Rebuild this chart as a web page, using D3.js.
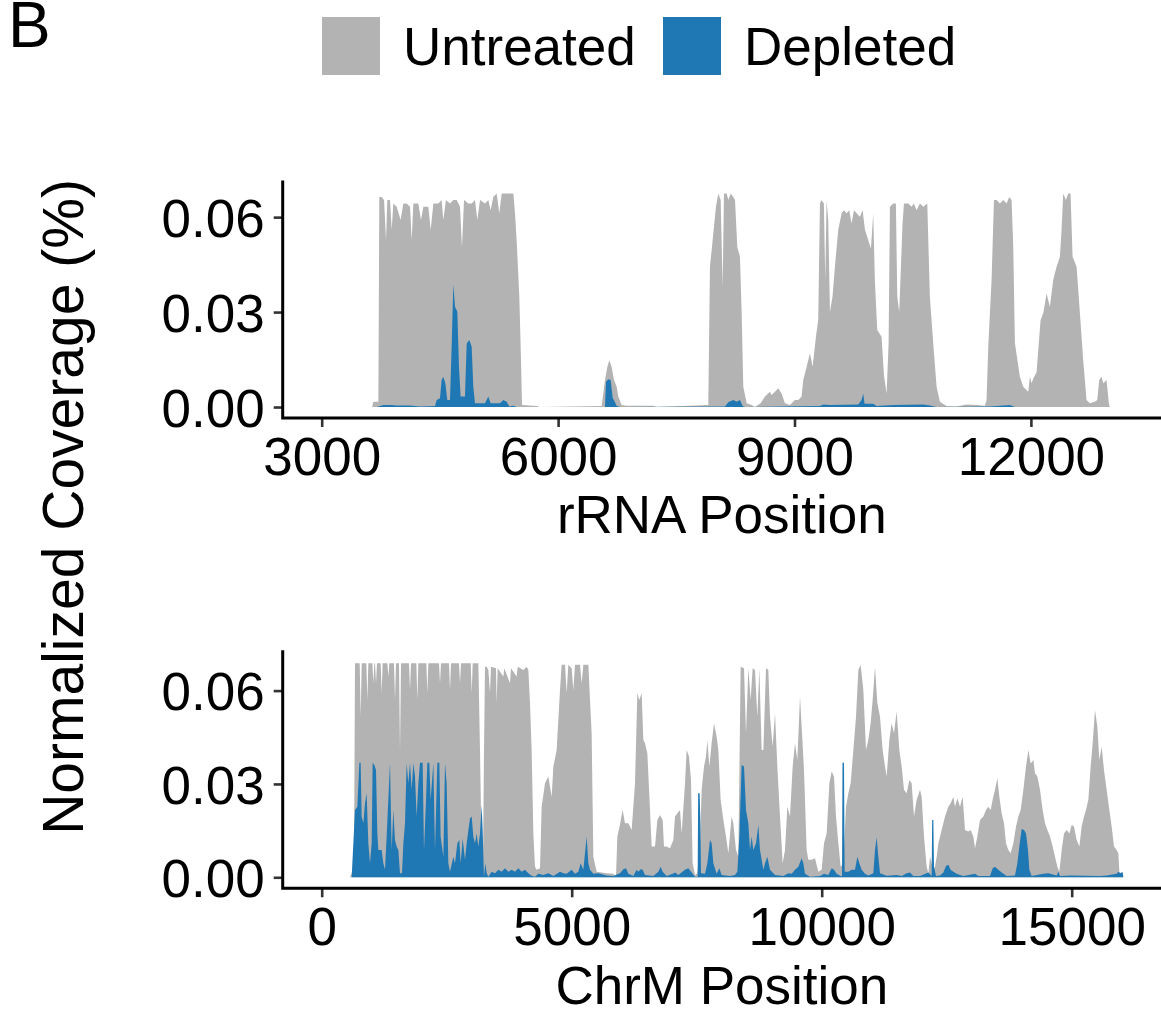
<!DOCTYPE html>
<html>
<head>
<meta charset="utf-8">
<script src="https://cdn.jsdelivr.net/npm/d3@7"></script>
<style>
  html, body { margin: 0; padding: 0; background: #fff; }
  svg { display: block; }
  text { font-family: "Liberation Sans", Arial, Helvetica, sans-serif; fill: #000; }
</style>
</head>
<body>
<svg id="chart" width="1161" height="1020"></svg>
<script>
// ---------------- DATA ----------------
const seriesNames = ["Untreated", "Depleted"];
const seriesColors = ["#b3b3b3", "#1f78b4"];
const panelLabel = "B";
const yTitle = "Normalized Coverage (%)";
const xTitles = ["rRNA Position", "ChrM Position"];
const yTicks = [0.00, 0.03, 0.06];
const yTickLabels = ["0.00", "0.03", "0.06"];
const rrnaXTicks = [3000, 6000, 9000, 12000];
const chrmXTicks = [0, 5000, 10000, 15000];

// rRNA coverage, Untreated: [position, coverage %]
const rrnaUntreated = [
[3640,0],[3655,0.0017],[3719,0.0017],[3731,0.0664],[3761,0.0664],[3791,0.0654],[3816,0.0527],[3833,0.0654],
[3867,0.0654],[3888,0.0559],[3909,0.0643],[3951,0.0633],[4002,0.0591],[4036,0.0643],[4078,0.0643],[4121,0.0633],
[4142,0.0527],[4163,0.0643],[4226,0.0643],[4260,0.0591],[4290,0.0633],[4353,0.0633],[4383,0.0559],[4417,0.0643],
[4480,0.0643],[4522,0.0654],[4543,0.0591],[4577,0.0654],[4628,0.0643],[4670,0.0654],[4713,0.0654],[4755,0.0633],
[4780,0.0506],[4806,0.0654],[4861,0.0643],[4903,0.0643],[4945,0.0654],[4975,0.0591],[5009,0.0654],[5072,0.0643],
[5114,0.0654],[5144,0.0622],[5178,0.0664],[5220,0.0675],[5254,0.0612],[5284,0.0675],[5347,0.0675],[5389,0.0675],
[5432,0.0675],[5453,0.0612],[5474,0.0527],[5508,0.0348],[5529,0.0150],[5542,0.0006],[5728,0.0003],[5770,0],
[6553,0.0003],[6595,0.0085],[6625,0.0127],[6650,0.0148],[6679,0.0127],[6709,0.0085],[6743,0.0064],[6764,0.0033],
[6806,0.0006],[6870,0.0004],[6950,0.0004],[7200,0.0004],[7250,0],[7906,0.0006],[7927,0.0443],[7961,0.0527],
[8003,0.0633],[8033,0.0675],[8063,0.0654],[8088,0.0380],[8105,0.0675],[8139,0.0675],[8160,0.0654],[8190,0.0675],
[8224,0.0664],[8245,0.0654],[8274,0.0506],[8308,0.0475],[8329,0.0300],[8350,0.0064],[8393,0.0012],[8456,0.0006],
[8498,0],[8570,0.0012],[8625,0.0033],[8688,0.0048],[8709,0.0038],[8752,0.0048],[8794,0.0059],[8836,0.0043],
[8879,0.0012],[8942,0.0006],[9005,0.0022],[9048,0.0022],[9090,0.0033],[9111,0.0085],[9154,0.0127],[9196,0.0170],
[9230,0.0127],[9272,0.0222],[9301,0.0275],[9323,0.0643],[9344,0.0654],[9373,0.0643],[9390,0.0401],[9407,0.0654],
[9428,0.0590],[9450,0.0300],[9483,0.0350],[9513,0.0443],[9555,0.0560],[9598,0.0612],[9627,0.0622],[9661,0.0612],
[9695,0.0622],[9724,0.0580],[9754,0.0622],[9788,0.0612],[9830,0.0601],[9864,0.0622],[9894,0.0560],[9936,0.0527],
[9970,0.0500],[9999,0.0612],[10020,0.0400],[10050,0.0243],[10105,0.0222],[10135,0.0100],[10169,0.0043],[10194,0.0200],
[10211,0.0633],[10253,0.0643],[10287,0.0643],[10304,0.0350],[10329,0.0300],[10371,0.0580],[10389,0.0643],[10444,0.0643],
[10486,0.0633],[10515,0.0643],[10549,0.0622],[10592,0.0643],[10634,0.0633],[10685,0.0643],[10718,0.0348],[10761,0.0200],
[10803,0.0064],[10845,0.0017],[10930,0.0003],[11057,0.0002],[11184,0.0008],[11311,0.0006],[11416,0.0004],[11437,0.0022],
[11459,0.0191],[11501,0.0401],[11531,0.0654],[11564,0.0654],[11607,0.0643],[11649,0.0654],[11691,0.0643],[11725,0.0664],
[11755,0.0654],[11776,0.0506],[11797,0.0202],[11860,0.0096],[11903,0.0064],[11966,0.0048],[11987,0.0096],[12008,0.0075],
[12030,0.0090],[12072,0.0110],[12123,0.0275],[12157,0.0296],[12199,0.0359],[12241,0.0317],[12283,0.0401],[12326,0.0443],
[12368,0.0475],[12389,0.0560],[12410,0.0675],[12444,0.0654],[12474,0.0675],[12503,0.0675],[12529,0.0475],[12580,0.0443],
[12622,0.0296],[12664,0.0148],[12706,0.0022],[12749,0.0012],[12812,0.0017],[12842,0.0022],[12867,0.0085],[12897,0.0096],
[12918,0.0075],[12960,0.0085],[12990,0.0010],[13002,0]
];

// rRNA coverage, Depleted
const rrnaDepleted = [
[3700,0],[3782,0.0006],[3888,0.0006],[3951,0.0005],[4121,0.0005],[4247,0.0002],[4438,0.0003],[4459,0.0022],
[4501,0.0028],[4522,0.0085],[4543,0.0096],[4569,0.0075],[4594,0.0022],[4628,0.0022],[4649,0.0191],[4670,0.0388],
[4692,0.0317],[4721,0.0301],[4742,0.0127],[4763,0.0033],[4818,0.0033],[4840,0.0201],[4873,0.0212],[4903,0.0191],
[4924,0.0064],[4945,0.0012],[5072,0.0012],[5114,0.0033],[5144,0.0012],[5262,0.0012],[5305,0.0022],[5347,0.0017],
[5381,0.0002],[5432,0.0004],[5474,0],[6595,0],[6608,0.0080],[6637,0.0088],[6667,0.0085],[6692,0.0030],
[6743,0.0004],[6785,0],[8117,0.0002],[8160,0.0015],[8223,0.0022],[8265,0.0017],[8308,0.0022],[8341,0.0003],
[8371,0],[9323,0.0003],[9365,0.0008],[9450,0.0006],[9809,0.0008],[9851,0.0022],[9872,0.0043],[9889,0.0010],
[9999,0.0010],[10042,0.0003],[10253,0.0006],[10634,0.0008],[10718,0.0005],[10803,0],[11480,0.0002],[11733,0.0006],
[11797,0]
];

// ChrM coverage, Untreated
const chrmUntreated = [
[566,0],[619,0.0020],[646,0.0045],[666,0.0688],[760,0.0688],[780,0.0516],[800,0.0688],[893,0.0688],
[913,0.0570],[933,0.0688],[1013,0.0688],[1033,0.0624],[1053,0.0688],[1066,0.0688],[1086,0.0624],[1106,0.0688],
[1179,0.0688],[1199,0.0592],[1219,0.0688],[1313,0.0688],[1333,0.0645],[1353,0.0688],[1446,0.0688],[1466,0.0570],
[1486,0.0688],[1546,0.0688],[1566,0.0404],[1586,0.0688],[1746,0.0688],[1766,0.0602],[1786,0.0688],[1893,0.0688],
[1913,0.0570],[1933,0.0688],[2093,0.0688],[2113,0.0592],[2133,0.0688],[2346,0.0688],[2366,0.0624],[2386,0.0688],
[2546,0.0688],[2566,0.0602],[2586,0.0688],[2746,0.0688],[2766,0.0624],[2786,0.0688],[2980,0.0688],[3000,0.0592],
[3020,0.0688],[3133,0.0688],[3166,0.0409],[3200,0.0066],[3226,0.0045],[3246,0.0409],[3266,0.0677],[3300,0.0677],
[3333,0.0666],[3366,0.0592],[3386,0.0677],[3486,0.0672],[3499,0.0560],[3519,0.0672],[3633,0.0645],[3653,0.0672],
[3766,0.0624],[3786,0.0672],[3899,0.0645],[3919,0.0677],[4033,0.0666],[4099,0.0677],[4133,0.0666],[4166,0.0560],
[4199,0.0409],[4233,0.0141],[4266,0.0034],[4300,0.0024],[4366,0.0029],[4399,0.0227],[4466,0.0302],[4533,0.0324],
[4599,0.0259],[4633,0.0356],[4699,0.0409],[4766,0.0602],[4799,0.0683],[4866,0.0683],[4899,0.0592],[4933,0.0683],
[4999,0.0672],[5033,0.0602],[5066,0.0683],[5166,0.0683],[5199,0.0624],[5233,0.0683],[5333,0.0683],[5366,0.0570],
[5399,0.0463],[5433,0.0066],[5499,0.0018],[5699,0.0013],[5833,0.0011],[5886,0.0002],[5913,0.0131],[5966,0.0170],
[6019,0.0216],[6066,0.0174],[6133,0.0174],[6199,0.0152],[6266,0.0302],[6313,0.0592],[6353,0.0570],[6399,0.0592],
[6433,0.0441],[6466,0.0431],[6513,0.0398],[6566,0.0216],[6599,0.0099],[6666,0.0099],[6713,0.0184],[6766,0.0200],
[6819,0.0184],[6846,0.0099],[6899,0.0099],[6966,0.0093],[7033,0.0120],[7066,0.0195],[7113,0.0206],[7166,0.0216],
[7199,0.0141],[7266,0.0302],[7299,0.0409],[7346,0.0388],[7386,0.0313],[7419,0.0045],[7466,0.0007],[7513,0.0013],
[7566,0.0109],[7599,0.0281],[7646,0.0356],[7686,0.0388],[7713,0.0441],[7753,0.0356],[7799,0.0431],[7846,0.0495],
[7899,0.0452],[7933,0.0409],[7979,0.0249],[8033,0.0184],[8086,0.0131],[8133,0.0077],[8199,0.0195],[8233,0.0174],
[8286,0.0088],[8333,0.0066],[8379,0.0677],[8446,0.0672],[8486,0.0463],[8533,0.0672],[8579,0.0570],[8619,0.0672],
[8666,0.0666],[8713,0.0516],[8753,0.0672],[8799,0.0409],[8833,0.0409],[8886,0.0672],[8933,0.0666],[8966,0.0516],
[9019,0.0420],[9066,0.0527],[9113,0.0356],[9166,0.0195],[9219,0.0045],[9266,0.0088],[9313,0.0227],[9366,0.0195],
[9419,0.0356],[9466,0.0431],[9513,0.0377],[9566,0.0581],[9606,0.0463],[9646,0.0345],[9699,0.0088],[9733,0.0056],
[9799,0.0056],[9866,0.0061],[9933,0.0018],[9999,0.0024],[10046,0.0109],[10099,0.0141],[10153,0.0302],[10199,0.0340],
[10246,0.0324],[10286,0.0195],[10333,0.0109],[10379,0.0034],[10433,0.0045],[10486,0.0227],[10533,0.0270],[10579,0.0302],
[10633,0.0409],[10686,0.0516],[10733,0.0666],[10779,0.0683],[10833,0.0602],[10886,0.0409],[10933,0.0441],[10979,0.0495],
[11019,0.0570],[11066,0.0677],[11113,0.0560],[11166,0.0516],[11219,0.0409],[11266,0.0356],[11299,0.0324],[11353,0.0441],
[11399,0.0495],[11446,0.0463],[11499,0.0533],[11553,0.0409],[11599,0.0356],[11646,0.0281],[11699,0.0270],[11753,0.0313],
[11799,0.0302],[11846,0.0195],[11899,0.0249],[11966,0.0281],[11999,0.0259],[12046,0.0131],[12099,0.0034],[12133,0.0013],
[12166,0.0066],[12199,0.0045],[12233,0.0024],[12266,0.0034],[12299,0.0066],[12333,0.0109],[12399,0.0152],[12466,0.0195],
[12533,0.0227],[12579,0.0238],[12633,0.0259],[12666,0.0227],[12713,0.0254],[12766,0.0227],[12819,0.0259],[12866,0.0152],
[12933,0.0147],[12979,0.0152],[13033,0.0131],[13066,0.0093],[13113,0.0131],[13166,0.0184],[13233,0.0195],[13286,0.0216],
[13333,0.0227],[13379,0.0216],[13419,0.0249],[13466,0.0281],[13513,0.0318],[13553,0.0259],[13599,0.0206],[13646,0.0174],
[13686,0.0109],[13733,0.0088],[13779,0.0077],[13833,0.0109],[13886,0.0163],[13933,0.0195],[13979,0.0216],[14033,0.0281],
[14086,0.0356],[14133,0.0409],[14179,0.0366],[14233,0.0377],[14266,0.0334],[14313,0.0324],[14366,0.0281],[14419,0.0216],
[14466,0.0174],[14513,0.0152],[14566,0.0131],[14619,0.0099],[14666,0.0066],[14713,0.0034],[14753,0.0018],[14799,0.0088],
[14846,0.0141],[14899,0.0152],[14953,0.0141],[14999,0.0168],[15046,0.0163],[15099,0.0120],[15153,0.0099],[15199,0.0163],
[15246,0.0195],[15286,0.0216],[15333,0.0249],[15379,0.0356],[15419,0.0431],[15466,0.0538],[15513,0.0485],[15553,0.0377],
[15599,0.0420],[15646,0.0345],[15699,0.0281],[15753,0.0216],[15799,0.0163],[15846,0.0099],[15899,0.0088],[15933,0.0077],
[15953,0.0018],[15979,0.0013],[16019,0.0018],[16033,0]
];

// ChrM coverage, Depleted
const chrmDepleted = [
[599,0],[666,0.0216],[713,0.0227],[753,0.0368],[779,0.0368],[799,0.0195],[833,0.0174],[866,0.0238],
[899,0.0270],[933,0.0109],[966,0.0045],[999,0.0109],[1019,0.0368],[1053,0.0361],[1086,0.0345],[1113,0.0141],
[1133,0.0088],[1199,0.0088],[1233,0.0045],[1266,0.0024],[1299,0.0131],[1366,0.0368],[1399,0.0088],[1433,0.0216],
[1466,0.0120],[1499,0.0099],[1533,0.0088],[1566,0.0013],[1606,0.0013],[1633,0.0109],[1666,0.0174],[1699,0.0368],
[1733,0.0302],[1766,0.0368],[1799,0.0281],[1833,0.0368],[1866,0.0324],[1899,0.0195],[1933,0.0302],[1966,0.0368],
[2019,0.0368],[2046,0.0088],[2086,0.0249],[2113,0.0368],[2153,0.0368],[2179,0.0249],[2233,0.0368],[2266,0.0088],
[2313,0.0368],[2353,0.0368],[2379,0.0131],[2433,0.0066],[2466,0.0368],[2499,0.0302],[2533,0.0045],[2566,0.0018],
[2633,0.0066],[2666,0.0045],[2713,0.0109],[2753,0.0120],[2779,0.0045],[2819,0.0125],[2866,0.0056],[2899,0.0109],
[2966,0.0190],[2999,0.0195],[3033,0.0131],[3066,0.0109],[3099,0.0141],[3133,0.0099],[3166,0.0141],[3199,0.0232],
[3219,0.0152],[3246,0.0002],[3273,0.0045],[3299,0.0013],[3333,0.0002],[3399,0.0018],[3466,0.0013],[3533,0.0024],
[3599,0.0018],[3666,0.0029],[3733,0.0018],[3799,0.0024],[3866,0.0018],[3933,0.0029],[3999,0.0018],[4066,0.0024],
[4133,0.0013],[4199,0.0005],[4266,0.0002],[4333,0.0011],[4433,0.0007],[4533,0.0013],[4633,0.0004],[4766,0.0018],
[4833,0.0013],[4899,0.0011],[4999,0.0024],[5066,0.0011],[5133,0.0018],[5179,0.0045],[5233,0.0024],[5299,0.0131],
[5333,0.0045],[5366,0.0024],[5433,0.0011],[5533,0.0013],[5699,0.0006],[5833,0.0004],[5966,0.0013],[6033,0.0026],
[6086,0.0029],[6133,0.0011],[6233,0.0004],[6299,0.0024],[6333,0.0018],[6379,0.0026],[6419,0.0024],[6466,0.0007],
[6633,0.0004],[6733,0.0018],[6779,0.0034],[6819,0.0018],[6899,0.0004],[7019,0.0011],[7066,0.0015],[7133,0.0007],
[7266,0.0024],[7333,0.0029],[7399,0.0015],[7466,0.0002],[7519,0.0002],[7529,0.0270],[7559,0.0270],[7573,0.0184],
[7586,0.0013],[7666,0.0011],[7713,0.0045],[7766,0.0120],[7799,0.0109],[7833,0.0045],[7899,0.0011],[7953,0.0029],
[7999,0.0007],[8166,0.0004],[8266,0.0007],[8313,0.0018],[8353,0.0131],[8399,0.0361],[8446,0.0356],[8486,0.0216],
[8533,0.0174],[8566,0.0088],[8599,0.0131],[8633,0.0088],[8686,0.0109],[8733,0.0168],[8766,0.0088],[8833,0.0024],
[8866,0.0045],[8913,0.0066],[8966,0.0024],[9066,0.0007],[9233,0.0004],[9333,0.0013],[9399,0.0011],[9466,0.0024],
[9533,0.0034],[9599,0.0061],[9633,0.0045],[9666,0.0011],[9766,0.0002],[9966,0.0004],[10046,0.0011],[10133,0.0007],
[10199,0.0029],[10246,0.0024],[10299,0.0011],[10379,0.0004],[10406,0.0004],[10416,0.0368],[10446,0.0368],[10459,0.0018],
[10533,0.0018],[10599,0.0024],[10666,0.0024],[10713,0.0066],[10753,0.0045],[10799,0.0024],[10866,0.0011],[10933,0.0006],
[11033,0.0013],[11066,0.0088],[11099,0.0129],[11133,0.0066],[11166,0.0013],[11299,0.0005],[11499,0.0007],[11599,0.0004],
[11699,0.0013],[11766,0.0015],[11833,0.0004],[11966,0.0004],[12133,0.0015],[12199,0.0004],[12209,0.0184],[12233,0.0184],
[12246,0.0034],[12286,0.0004],[12366,0.0006],[12433,0.0015],[12486,0.0036],[12533,0.0040],[12579,0.0024],[12633,0.0018],
[12699,0.0011],[12833,0.0004],[13066,0.0011],[13133,0.0004],[13366,0.0004],[13419,0.0029],[13466,0.0034],[13533,0.0024],
[13599,0.0015],[13699,0.0004],[13866,0.0006],[13913,0.0045],[13953,0.0099],[13999,0.0155],[14046,0.0152],[14086,0.0141],
[14126,0.0088],[14153,0.0024],[14199,0.0004],[14433,0.0011],[14533,0.0013],[14699,0.0006],[14733,0.0018],[14766,0.0004],
[14966,0.0006],[15566,0.0004],[15699,0.0006],[15899,0.0011],[15933,0.0018],[15966,0.0013],[15999,0.0015],[16019,0.0015],
[16033,0]
];

// ---------------- DRAW ----------------
const svg = d3.select("#chart");
const W = 1161;
const FS = 53;

const panels = [
  { series: [rrnaUntreated, rrnaDepleted], xDomain: [2505, 13651], yDomain: [-0.00347, 0.0711],
    top: 182, bottom: 418, xTicks: rrnaXTicks, title: xTitles[0], tickBase: 475, titleBase: 533 },
  { series: [chrmUntreated, chrmDepleted], xDomain: [-780, 16786], yDomain: [-0.00354, 0.0725],
    top: 651.7, bottom: 888.3, xTicks: chrmXTicks, title: xTitles[1], tickBase: 945, titleBase: 1004 }
];
const left = 282.7, right = W;

panels.forEach((p, pi) => {
  const x = d3.scaleLinear().domain(p.xDomain).range([left, right]);
  const y = d3.scaleLinear().domain(p.yDomain).range([p.bottom, p.top]);
  const g = svg.append("g");

  const clipId = "clip" + pi;
  svg.append("clipPath").attr("id", clipId).append("rect")
    .attr("x", left).attr("y", p.top).attr("width", right - left).attr("height", p.bottom - p.top);

  const area = d3.area().x(d => x(d[0])).y0(y(0)).y1(d => y(d[1])).curve(d3.curveLinear);
  p.series.forEach((s, si) => {
    g.append("path").datum(s).attr("d", area)
      .attr("fill", seriesColors[si]).attr("clip-path", `url(#${clipId})`);
  });

  // y axis
  const yAxis = d3.axisLeft(y).tickValues(yTicks).tickFormat((d, i) => yTickLabels[i]).tickSize(9).tickPadding(9);
  const ya = svg.append("g").attr("transform", `translate(${left},0)`).call(yAxis);
  ya.select(".domain").remove();
  ya.selectAll(".tick line").attr("stroke", "#333333").attr("stroke-width", 2.6);
  ya.selectAll(".tick text").attr("font-size", FS).attr("font-family", "Liberation Sans, Arial, sans-serif")
    .attr("fill", "#000").attr("dy", "0.36em");

  // x axis
  const xAxis = d3.axisBottom(x).tickValues(p.xTicks).tickFormat(d3.format("d")).tickSize(9).tickPadding(0);
  const xa = svg.append("g").attr("transform", `translate(0,${p.bottom})`).call(xAxis);
  xa.select(".domain").remove();
  xa.selectAll(".tick line").attr("stroke", "#333333").attr("stroke-width", 2.6);
  xa.selectAll(".tick text").attr("font-size", FS).attr("font-family", "Liberation Sans, Arial, sans-serif")
    .attr("fill", "#000").attr("y", p.tickBase - p.bottom).attr("dy", 0);

  // axis lines
  svg.append("path")
    .attr("d", `M${left},${p.top} L${left},${p.bottom} L${right},${p.bottom}`)
    .attr("fill", "none").attr("stroke", "#000").attr("stroke-width", 3).attr("stroke-linecap", "square");

  // x title
  svg.append("text").attr("x", (left + right) / 2).attr("y", p.titleBase)
    .attr("text-anchor", "middle").attr("font-size", FS).text(p.title);
});

// y title
svg.append("text").attr("transform", "translate(83,507) rotate(-90)")
  .attr("text-anchor", "middle").attr("font-size", 57).text(yTitle);

// panel label
svg.append("text").attr("x", 8).attr("y", 47).attr("font-size", 64).text(panelLabel);

// legend
const legX = [322, 663];
seriesNames.forEach((n, i) => {
  svg.append("rect").attr("x", legX[i]).attr("y", 17).attr("width", 58).attr("height", 58).attr("fill", seriesColors[i]);
  svg.append("text").attr("x", legX[i] + 81).attr("y", 65).attr("font-size", FS).text(n);
});
</script>
</body>
</html>
